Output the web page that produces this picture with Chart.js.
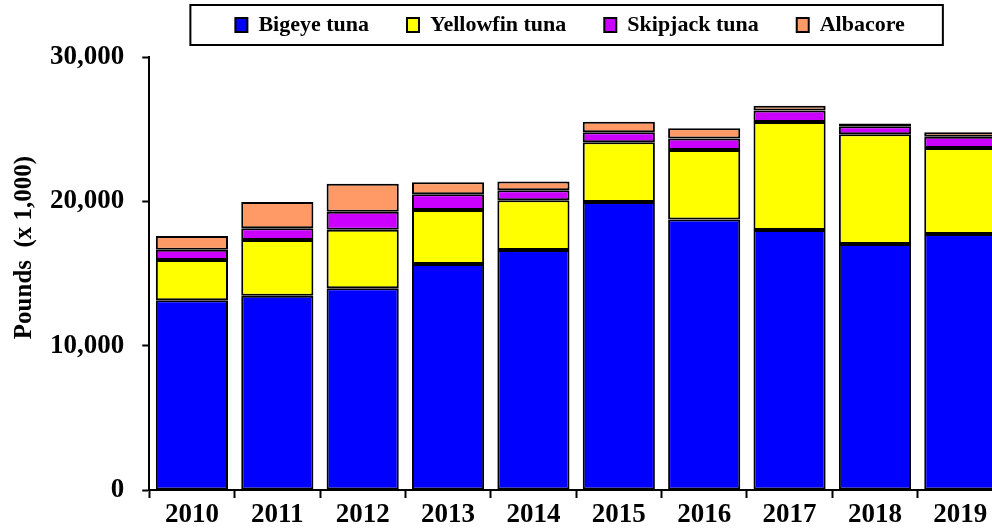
<!DOCTYPE html>
<html>
<head>
<meta charset="utf-8">
<script src="https://cdn.jsdelivr.net/npm/chart.js@4/dist/chart.umd.min.js"></script>
<style>
    html, body { margin: 0; padding: 0; background: #fff; overflow: hidden; }
    #wrap { width: 1010px; height: 529px; position: relative; }
</style>
</head>
<body>
<div id="wrap"><canvas id="tunaChart"></canvas></div>
<script>
// ── Data (pounds x 1,000) ───────────────────
const years = ['2010', '2011', '2012', '2013', '2014', '2015', '2016', '2017', '2018', '2019'];
const bigeye = [13150, 13450, 13980, 15650, 16630, 19960, 18750, 18020, 17050, 17740];
const yellowfin = [2790, 3870, 4045, 3750, 3440, 4135, 4810, 7470, 7605, 5960];
const skipjack = [700, 820, 1260, 1090, 700, 700, 790, 810, 540, 770];
const albacore = [950, 1810, 1930, 840, 600, 720, 720, 330, 190, 320];
const yTicks = [0, 10000, 20000, 30000];

const FONT = '"Liberation Serif", "Times New Roman", serif';

// nudge the legend a little left of the plot centre, and frame it
const legendFrame = {
    id: 'legendFrame',
    afterLayout(chart) {
        chart.legend.left -= 6;
        chart.legend.right -= 6;
    },
    afterDraw(chart) {
        const boxes = chart.legend.legendHitBoxes;
        if (!boxes || !boxes.length) return;
        const last = boxes[boxes.length - 1];
        const left = boxes[0].left - 45;
        const right = last.left + last.width + 38;
        const mid = boxes[0].top + boxes[0].height / 2;
        const ctx = chart.ctx;
        ctx.save();
        ctx.strokeStyle = '#000';
        ctx.lineWidth = 2;
        ctx.strokeRect(left, mid - 20, right - left, 40);
        ctx.restore();
    }
};

// y axis title, sitting a little above the middle like the original
const yTitle = {
    id: 'yTitle',
    afterDraw(chart) {
        const area = chart.chartArea;
        const ctx = chart.ctx;
        ctx.save();
        ctx.translate(area.left - 125, (area.top + area.bottom) / 2 - 26);
        ctx.rotate(-Math.PI / 2);
        ctx.font = 'bold 25px ' + FONT;
        ctx.fillStyle = '#000';
        ctx.textAlign = 'center';
        ctx.textBaseline = 'middle';
        ctx.fillText('Pounds  (x 1,000)', 0, 0);
        ctx.restore();
    }
};

function series(label, data, color) {
    return {
        label: label,
        data: data,
        backgroundColor: color,
        borderColor: '#000',
        borderWidth: 2,
        borderSkipped: false,
        barPercentage: 0.845,
        categoryPercentage: 1.0
    };
}

new Chart(document.getElementById('tunaChart'), {
    type: 'bar',
    data: {
        labels: years,
        datasets: [
            series('Bigeye tuna', bigeye, '#0000FF'),
            series('Yellowfin tuna', yellowfin, '#FFFF00'),
            series('Skipjack tuna', skipjack, '#CC00FF'),
            series('Albacore', albacore, '#FF9966')
        ]
    },
    options: {
        responsive: true,
        maintainAspectRatio: false,
        animation: false,
        layout: { padding: { left: 32, right: 7, top: -24, bottom: -4 } },
        scales: {
            x: {
                stacked: true,
                border: { color: '#000', width: 2 },
                grid: {
                    offset: true,
                    drawOnChartArea: false,
                    tickLength: 8,
                    tickColor: '#000',
                    tickWidth: 2
                },
                ticks: {
                    color: '#000',
                    padding: 4,
                    maxRotation: 0,
                    font: { family: FONT, size: 27, weight: 'bold', lineHeight: 1.0 }
                }
            },
            y: {
                stacked: true,
                min: 0,
                max: 30000,
                afterBuildTicks: scale => { scale.ticks = yTicks.map(v => ({ value: v })); },
                border: { color: '#000', width: 2 },
                grid: {
                    drawOnChartArea: false,
                    tickLength: 7,
                    tickColor: '#000',
                    tickWidth: 2
                },
                ticks: {
                    color: '#000',
                    padding: 18,
                    callback: v => v.toLocaleString('en-US'),
                    font: { family: FONT, size: 27, weight: 'bold' }
                }
            }
        },
        plugins: {
            legend: {
                position: 'top',
                fullSize: false,
                labels: {
                    color: '#000',
                    boxWidth: 12,
                    boxHeight: 14,
                    padding: 38,
                    font: { family: FONT, size: 22, weight: 'bold' }
                }
            },
            // empty title used as a spacer between legend and plot
            title: {
                display: true,
                text: '',
                weight: 500,
                font: { size: 1, lineHeight: 1 },
                padding: { top: 5, bottom: 5 }
            },
            tooltip: { enabled: false }
        }
    },
    plugins: [legendFrame, yTitle]
});
</script>
</body>
</html>
